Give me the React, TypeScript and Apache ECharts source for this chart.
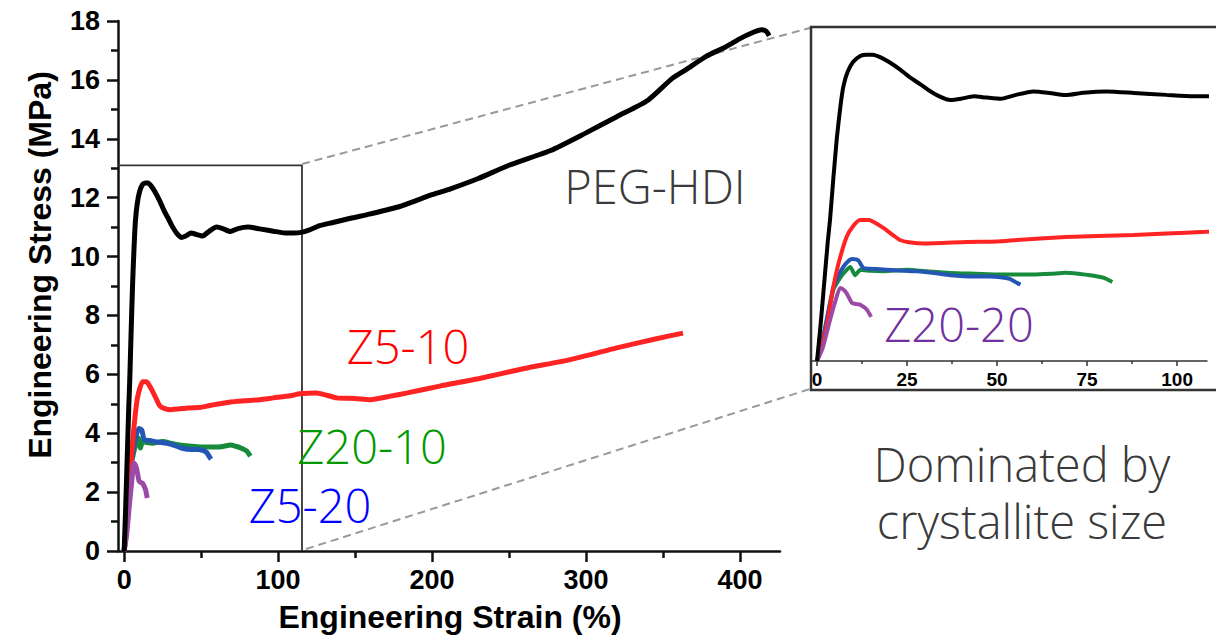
import React, { useEffect, useRef } from "react";
import * as echarts from "echarts";

// ---- data (strain %, stress MPa) ----
const pegStrain = [0, 1, 2, 3, 3.6, 4.5, 5.5, 6.5, 7.3, 8.5, 10, 12, 13.8, 15.5, 17.5, 20, 23, 26, 28.6, 31, 34, 37, 40, 43.5, 47, 51, 55, 60, 64, 69, 74, 80.5, 88, 97, 104.5, 110, 115, 120, 127, 135, 147, 160, 179, 200, 212, 230, 250, 277, 300, 320, 340, 356, 365, 378, 390, 400, 408, 414, 417, 419];
const pegStress = [0, 1.5, 3.2, 4.9, 5.75, 7.4, 9.1, 10.4, 11.2, 11.8, 12.2, 12.45, 12.5, 12.5, 12.4, 12.2, 11.9, 11.55, 11.3, 11.05, 10.8, 10.65, 10.7, 10.8, 10.75, 10.7, 10.85, 11.0, 10.95, 10.85, 10.95, 11.0, 10.94, 10.86, 10.8, 10.8, 10.82, 10.9, 11.05, 11.15, 11.3, 11.45, 11.7, 12.1, 12.3, 12.65, 13.1, 13.6, 14.2, 14.75, 15.3, 16.05, 16.35, 16.8, 17.1, 17.4, 17.6, 17.7, 17.65, 17.5];

const z510Strain = [0, 2, 3, 4.5, 6, 8.2, 10, 12, 14.5, 16, 18.4, 21, 23, 25.5, 30, 41.5, 50, 55.5, 62, 69, 78, 88, 97, 108, 114, 125, 138, 150, 160, 172, 184, 205, 230, 260, 290, 320, 345, 363];
const z510Stress = [0, 1.0, 1.7, 3.0, 4.0, 5.06, 5.5, 5.75, 5.75, 5.65, 5.43, 5.15, 4.94, 4.85, 4.8, 4.86, 4.88, 4.94, 5.0, 5.06, 5.1, 5.14, 5.2, 5.27, 5.34, 5.37, 5.2, 5.18, 5.14, 5.25, 5.37, 5.6, 5.85, 6.2, 6.5, 6.9, 7.2, 7.4];

const z520Strain = [0, 2, 4.5, 6, 7.3, 8.5, 9.7, 11.5, 12.8, 14.5, 16.5, 22, 27.6, 33, 37, 43.5, 48, 51, 53.5, 55.5, 56.5];
const z520Stress = [0, 1.2, 3.0, 3.5, 3.84, 4.05, 4.16, 4.1, 3.8, 3.76, 3.75, 3.7, 3.66, 3.58, 3.5, 3.45, 3.45, 3.42, 3.35, 3.19, 3.12];

const z2010Strain = [0, 2, 4.5, 6, 7.3, 9.2, 10.6, 12, 15, 18.4, 25, 31, 37, 44, 51, 60, 65, 69, 73, 75.8, 79.5, 82];
const z2010Stress = [0, 1.1, 2.9, 3.3, 3.57, 3.84, 3.5, 3.72, 3.68, 3.66, 3.72, 3.65, 3.59, 3.56, 3.53, 3.53, 3.56, 3.6, 3.55, 3.5, 3.4, 3.22];

const z2020Strain = [0, 1.5, 3.6, 5, 6.4, 7.3, 8.2, 9.7, 11, 12, 13.8, 15];
const z2020Stress = [0, 0.5, 1.67, 2.4, 2.98, 2.92, 2.77, 2.37, 2.32, 2.3, 2.1, 1.8];

const mainXTicks = [0, 100, 200, 300, 400];
const mainXMinorTicks = [50, 150, 250, 350];
const insetXTicks = [0, 25, 50, 75, 100];
const insetXMinorTicks = [12.5, 37.5, 62.5, 87.5];

// zoomed region outline (strain, stress)
const boxStrain = [-4, 115.5, 115.5];
const boxStress = [13.1, 13.1, 0];

const seriesDefs = [
  { name: "PEG-HDI", xs: pegStrain, ys: pegStress, color: "#000000" },
  { name: "Z5-10", xs: z510Strain, ys: z510Stress, color: "#ff2424" },
  { name: "Z20-10", xs: z2010Strain, ys: z2010Stress, color: "#178a3c" },
  { name: "Z5-20", xs: z520Strain, ys: z520Stress, color: "#2456b5" },
  { name: "Z20-20", xs: z2020Strain, ys: z2020Stress, color: "#9b4aa5" },
];

const pairs = (xs: number[], ys: number[]) => xs.map((x, i) => [x, ys[i]]);

const tickFont = '"Liberation Sans", Arial, sans-serif';
const labelFont = '"Open Sans", sans-serif';

export default function App() {
  const ref = useRef<HTMLDivElement>(null);
  useEffect(() => {
    if (!ref.current) return;
    const chart = echarts.init(ref.current, null, { renderer: "svg" });

    const series: any[] = [
      {
        type: "line",
        xAxisIndex: 0,
        yAxisIndex: 0,
        data: pairs(boxStrain, boxStress),
        showSymbol: false,
        silent: true,
        lineStyle: { color: "#333333", width: 1.8 },
        z: 1,
      },
    ];
    // draw order: back to front
    const order = [2, 3, 1, 4, 0];
    order.forEach((k) => {
      const s = seriesDefs[k];
      series.push({
        name: s.name,
        type: "line",
        xAxisIndex: 0,
        yAxisIndex: 0,
        data: pairs(s.xs, s.ys),
        showSymbol: false,
        smooth: 0.2,
        lineStyle: { color: s.color, width: 5 },
        z: 3,
      });
      series.push({
        name: s.name + " inset",
        type: "line",
        xAxisIndex: 2,
        yAxisIndex: 1,
        data: pairs(s.xs, s.ys),
        showSymbol: false,
        smooth: 0.2,
        clip: true,
        lineStyle: { color: s.color, width: 4 },
        z: 3,
      });
    });

    const text = (
      str: string,
      x: number,
      y: number,
      color: string,
      size: number,
      opts: any = {}
    ) => ({
      type: "text",
      x,
      y,
      rotation: opts.rotation || 0,
      z: 10,
      style: {
        text: str,
        fill: color,
        font: `${opts.weight || 300} ${size}px ${opts.family || labelFont}`,
        lineHeight: opts.lineHeight,
        textAlign: opts.align || "center",
        align: opts.align || "center",
        textVerticalAlign: "middle",
        verticalAlign: "middle",
      },
    });

    chart.setOption({
      animation: false,
      backgroundColor: "#ffffff",
      grid: [
        { left: 118, top: 21, width: 662, height: 530 },
        { left: 812, top: 27, width: 395, height: 334 },
      ],
      xAxis: [
        {
          type: "value",
          gridIndex: 0,
          min: -4,
          max: 426,
          position: "bottom",
          axisLine: { onZero: false, lineStyle: { color: "#111", width: 2.5 } },
          axisTick: { customValues: mainXTicks, length: 11, lineStyle: { color: "#111", width: 2.5 } },
          axisLabel: {
            customValues: mainXTicks,
            margin: 15,
            color: "#000",
            fontSize: 27,
            fontWeight: "bold",
            fontFamily: tickFont,
          },
          splitLine: { show: false },
        },
        {
          type: "value",
          gridIndex: 0,
          min: -4,
          max: 426,
          position: "bottom",
          axisLine: { show: false, onZero: false },
          axisTick: { customValues: mainXMinorTicks, length: 7, lineStyle: { color: "#111", width: 2.5 } },
          axisLabel: { show: false },
          splitLine: { show: false },
        },
        {
          type: "value",
          gridIndex: 1,
          min: -1.4,
          max: 108.3,
          position: "bottom",
          axisLine: { onZero: false, lineStyle: { color: "#333", width: 1.5 } },
          axisTick: { customValues: insetXTicks, length: 5, lineStyle: { color: "#333", width: 1.5 } },
          axisLabel: {
            customValues: insetXTicks,
            margin: 9,
            color: "#000",
            fontSize: 19,
            fontWeight: "bold",
            fontFamily: tickFont,
          },
          splitLine: { show: false },
        },
        {
          type: "value",
          gridIndex: 1,
          min: -1.4,
          max: 108.3,
          position: "bottom",
          axisLine: { show: false, onZero: false },
          axisTick: { customValues: insetXMinorTicks, length: 3, lineStyle: { color: "#333", width: 1.5 } },
          axisLabel: { show: false },
          splitLine: { show: false },
        },
      ],
      yAxis: [
        {
          type: "value",
          gridIndex: 0,
          min: 0,
          max: 18,
          interval: 2,
          axisLine: { show: true, onZero: false, lineStyle: { color: "#111", width: 2.5 } },
          axisTick: { show: true, length: 11, lineStyle: { color: "#111", width: 2.5 } },
          minorTick: { show: true, splitNumber: 2, length: 7, lineStyle: { color: "#111", width: 2.5 } },
          axisLabel: {
            margin: 18,
            color: "#000",
            fontSize: 27,
            fontWeight: "bold",
            fontFamily: tickFont,
          },
          splitLine: { show: false },
          minorSplitLine: { show: false },
        },
        {
          type: "value",
          gridIndex: 1,
          min: 0,
          max: 13.63,
          show: false,
          splitLine: { show: false },
        },
      ],
      series,
      graphic: [
        // inset frame
        {
          type: "rect",
          shape: { x: 811, y: 27, width: 420, height: 363 },
          style: { fill: "none", stroke: "#333", lineWidth: 2.5 },
          z: 5,
        },
        // connecting dashed lines
        {
          type: "line",
          shape: { x1: 302, y1: 164, x2: 810, y2: 28 },
          style: { stroke: "#999", lineWidth: 2, lineDash: [8, 5] },
          z: 2,
        },
        {
          type: "line",
          shape: { x1: 306, y1: 549, x2: 810, y2: 389 },
          style: { stroke: "#999", lineWidth: 2, lineDash: [8, 5] },
          z: 2,
        },
        // axis titles
        text("Engineering Stress (MPa)", 39.5, 265, "#000", 32, {
          rotation: Math.PI / 2,
          weight: "bold",
          family: tickFont,
        }),
        text("Engineering Strain (%)", 450, 617, "#000", 32, {
          weight: "bold",
          family: tickFont,
        }),
        // annotations
        text("PEG-HDI", 655, 186, "#3a3a3a", 47),
        text("Z5-10", 408, 346, "#ff0000", 47),
        text("Z20-10", 372, 446, "#009900", 47),
        text("Z5-20", 310, 505, "#0000ff", 47),
        text("Z20-20", 959, 324, "#7030a0", 47),
        text("Dominated by\ncrystallite size", 1022, 492, "#3a3a3a", 47, { lineHeight: 57 }),
      ],
    });
    return () => chart.dispose();
  }, []);
  return (
    <div
      ref={ref}
      style={{ position: "fixed", left: 0, top: 0, width: 1216, height: 642, background: "#fff" }}
    />
  );
}
